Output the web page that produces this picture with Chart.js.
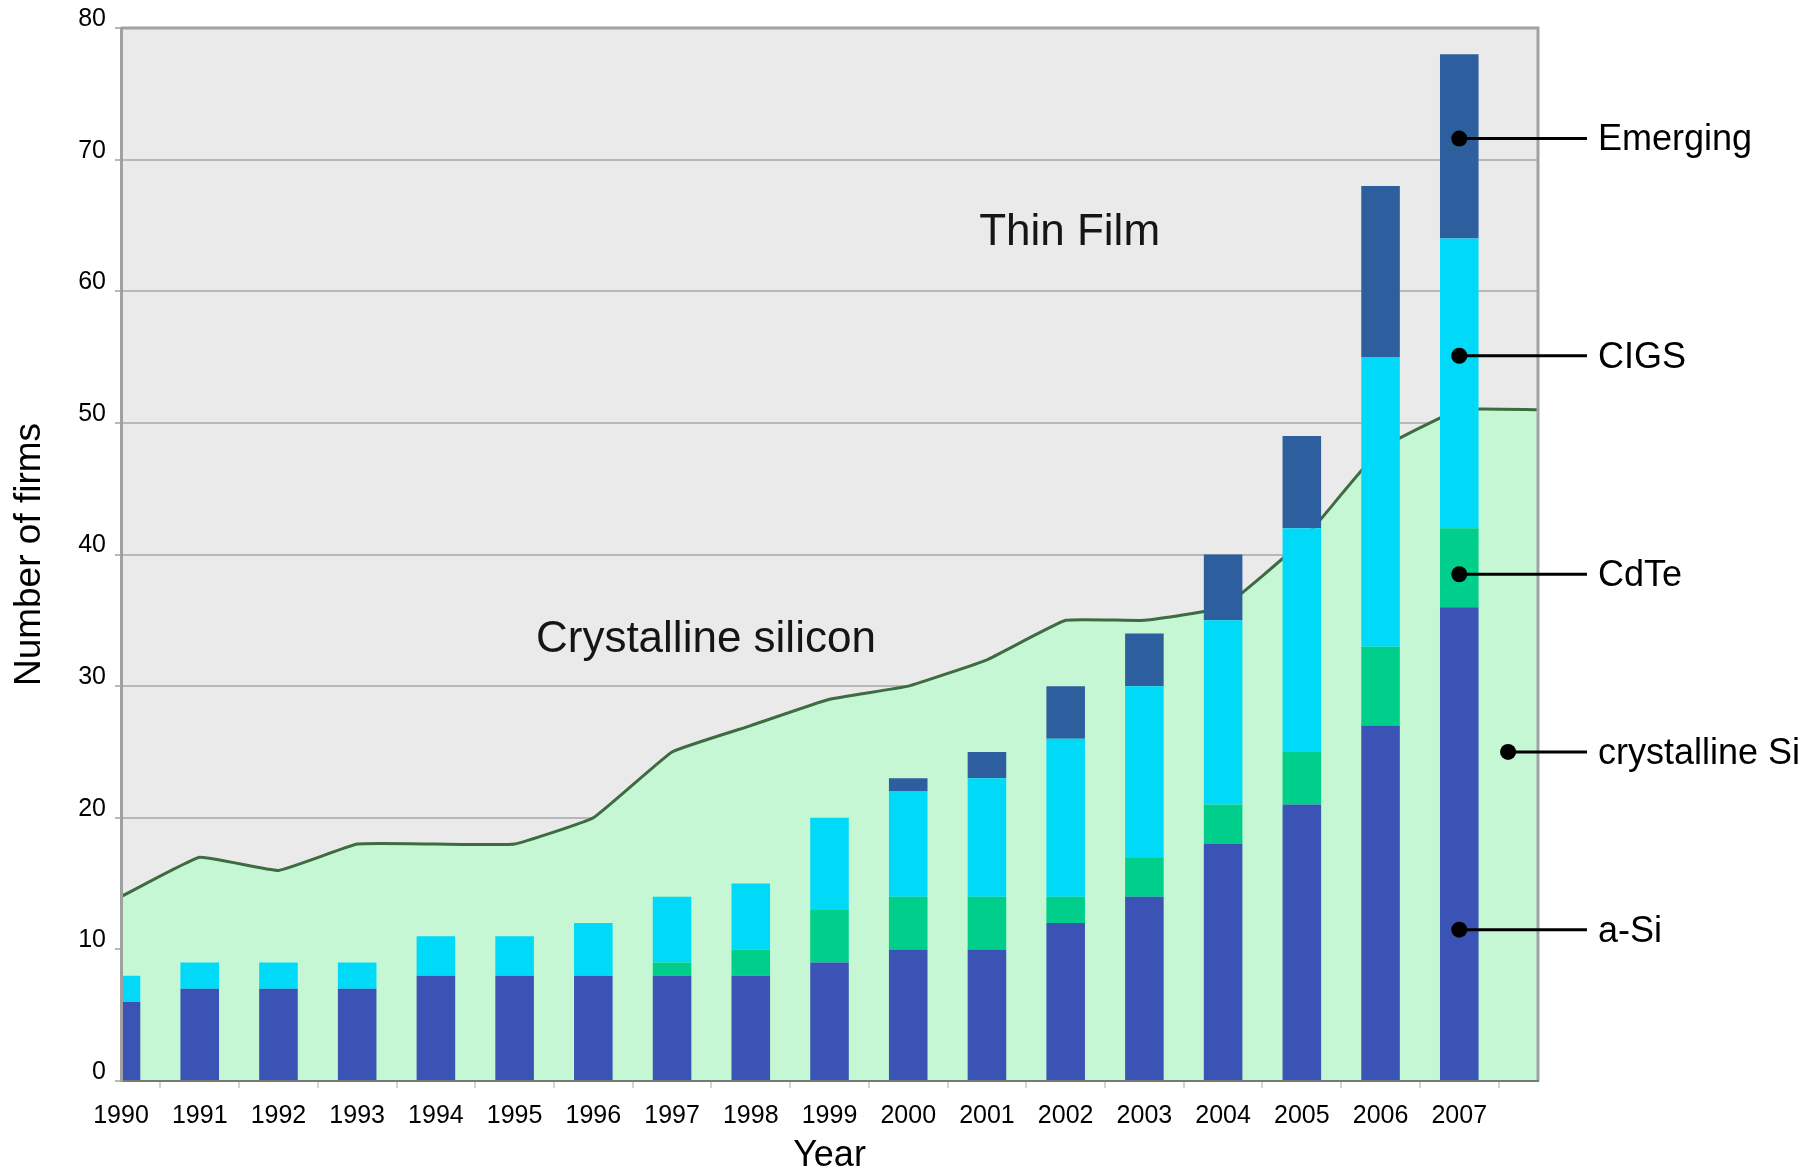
<!DOCTYPE html>
<html>
<head>
<meta charset="utf-8">
<script src="https://cdn.jsdelivr.net/npm/chart.js@4/dist/chart.umd.min.js"></script>
<style>
    html, body { margin: 0; padding: 0; background: #fff; }
    #wrap { width: 1820px; height: 1174px; }
</style>
</head>
<body>
<div id="wrap"><canvas id="myChart" width="1820" height="1174"></canvas></div>
<script>
const YEARS = ['1990', '1991', '1992', '1993', '1994', '1995', '1996', '1997', '1998',
    '1999', '2000', '2001', '2002', '2003', '2004', '2005', '2006', '2007', '2008'];

// firms per technology, stacked bottom to top
const aSi      = [6, 7, 7, 7, 8, 8, 8, 8, 8, 9, 10, 10, 12, 14, 18, 21, 27, 36, null];
const cdTe     = [0, 0, 0, 0, 0, 0, 0, 1, 2, 4, 4, 4, 2, 3, 3, 4, 6, 6, null];
const cigs     = [2, 2, 2, 2, 3, 3, 4, 5, 5, 7, 8, 9, 12, 13, 14, 17, 22, 22, null];
const emerging = [0, 0, 0, 0, 0, 0, 0, 0, 0, 0, 1, 2, 4, 4, 5, 7, 13, 14, null];

// crystalline silicon firms (area behind the bars)
const crystallineSi = [14, 17, 16, 18, 18, 18, 20, 25, 27, 29, 30, 32, 35, 35, 36, 41, 48, 51, 51];

const Y_TICKS = [0, 10, 20, 30, 40, 50, 60, 70, 80];

// labels on the right, pointing into the chart (x = category index, y = value)
const calloutNames  = ['Emerging', 'CIGS', 'CdTe', 'crystalline Si', 'a-Si'];
const calloutX      = [17, 17, 17, 17.62, 17];
const calloutY      = [71.6, 55.1, 38.5, 25, 11.5];

// region captions
const regionNames = ['Thin Film', 'Crystalline silicon'];
const regionX     = [12.05, 7.43];
const regionY     = [64.4, 33.5];

const FONT = '"Liberation Sans", Arial, Helvetica, sans-serif';

const plotBackground = {
    id: 'plotBackground',
    beforeDraw(chart) {
        const {ctx, chartArea: a} = chart;
        ctx.save();
        ctx.fillStyle = '#eaeaea';
        ctx.fillRect(a.left, a.top, a.right - a.left, a.bottom - a.top);
        ctx.restore();
    }
};

const frameAndNotes = {
    id: 'frameAndNotes',
    afterDatasetsDraw(chart) {
        const {ctx, chartArea: a, scales: {x, y}} = chart;
        ctx.save();

        // top and right edges of the plot frame
        ctx.strokeStyle = '#a2a2a2';
        ctx.lineWidth = 3;
        ctx.beginPath();
        ctx.moveTo(a.left, a.top);
        ctx.lineTo(a.right, a.top);
        ctx.lineTo(a.right, a.bottom);
        ctx.stroke();

        // region captions
        ctx.fillStyle = '#151515';
        ctx.font = '44px ' + FONT;
        ctx.textAlign = 'center';
        ctx.textBaseline = 'middle';
        regionNames.forEach((txt, i) => {
            ctx.fillText(txt, x.getPixelForValue(regionX[i]), y.getPixelForValue(regionY[i]));
        });

        // callouts
        ctx.fillStyle = '#000';
        ctx.strokeStyle = '#000';
        ctx.lineWidth = 3;
        ctx.font = '36px ' + FONT;
        ctx.textAlign = 'left';
        calloutNames.forEach((txt, i) => {
            const px = x.getPixelForValue(calloutX[i]);
            const py = y.getPixelForValue(calloutY[i]);
            ctx.beginPath();
            ctx.moveTo(px, py);
            ctx.lineTo(a.right + 49, py);
            ctx.stroke();
            ctx.beginPath();
            ctx.arc(px, py, 8, 0, Math.PI * 2);
            ctx.fill();
            ctx.fillText(txt, a.right + 60, py + 2);
        });
        ctx.restore();
    }
};

function barSet(label, data, color) {
    return {
        type: 'bar',
        label: label,
        data: data,
        backgroundColor: color,
        borderWidth: 0,
        stack: 'thin',
        order: 0,
        clip: 0,
        categoryPercentage: 1,
        barPercentage: 0.49
    };
}

var ctx = document.getElementById('myChart');
var myChart = new Chart(ctx, {
    data: {
        labels: YEARS,
        datasets: [
            barSet('a-Si', aSi, '#3a53b4'),
            barSet('CdTe', cdTe, '#00cf8c'),
            barSet('CIGS', cigs, '#00d9f8'),
            barSet('Emerging', emerging, '#2d5e9e'),
            {
                type: 'line',
                label: 'crystalline Si',
                data: crystallineSi,
                borderColor: '#3e6b40',
                borderWidth: 3,
                backgroundColor: '#c5f7d4',
                fill: 'origin',
                pointRadius: 0,
                tension: 0.1,
                stack: 'area',
                order: 1,
                clip: 0
            }
        ]
    },
    options: {
        responsive: false,
        animation: false,
        layout: { padding: { top: 28, right: 282, left: 0, bottom: 0 } },
        plugins: {
            legend: { display: false },
            tooltip: { enabled: false }
        },
        scales: {
            x: {
                stacked: true,
                offset: false,
                grid: {
                    drawOnChartArea: false,
                    drawTicks: true,
                    tickLength: 7,
                    color: '#d4d4d4',
                    lineWidth: 2
                },
                border: { display: true, color: '#6f7d6f', width: 2, z: 1 },
                ticks: {
                    autoSkip: false,
                    maxRotation: 0,
                    padding: 13,
                    color: '#000',
                    font: { family: FONT, size: 25 },
                    callback: function (v, i) { return i === YEARS.length - 1 ? '' : YEARS[i]; }
                },
                title: {
                    display: true,
                    text: 'Year',
                    color: '#000',
                    font: { family: FONT, size: 36, lineHeight: 1 },
                    padding: { top: 0, bottom: 0 }
                },
                afterFit(scale) { scale.height = 93; }
            },
            y: {
                stacked: true,
                min: 0,
                max: 80,
                afterBuildTicks(scale) { scale.ticks = Y_TICKS.map(v => ({ value: v })); },
                grid: {
                    color: '#b8b8b8',
                    lineWidth: 2,
                    tickLength: 6
                },
                border: { display: true, color: '#a0a0a0', width: 3, z: 1 },
                ticks: {
                    padding: 9,
                    labelOffset: -9,
                    color: '#000',
                    font: { family: FONT, size: 25 }
                },
                title: {
                    display: true,
                    text: 'Number of firms',
                    color: '#000',
                    font: { family: FONT, size: 37, lineHeight: 1 },
                    padding: { top: 11, bottom: 0 }
                },
                afterFit(scale) { scale.width = 121; }
            }
        }
    },
    plugins: [plotBackground, frameAndNotes]
});
</script>
</body>
</html>
